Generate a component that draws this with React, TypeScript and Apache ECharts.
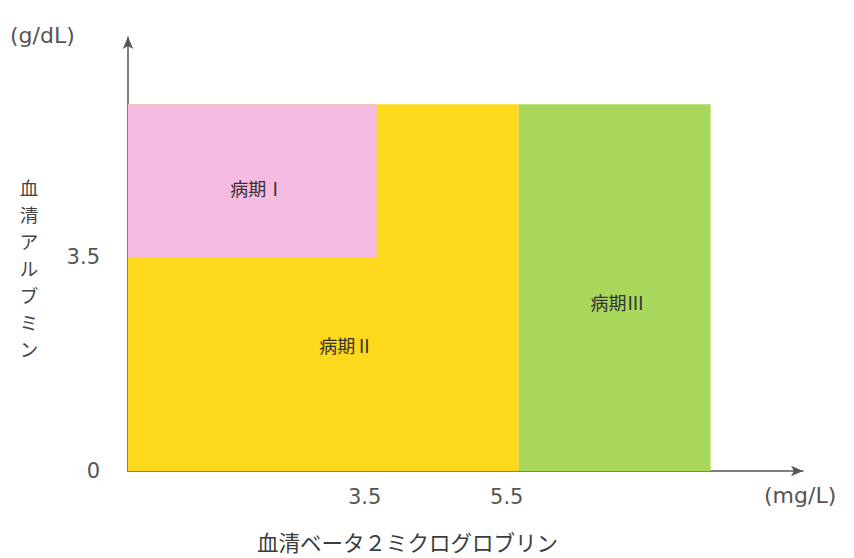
import React, { useEffect, useRef } from "react";
import * as echarts from "echarts";

// Regions (drawing order: yellow base, pink on top, green)
const regionNames = ["病期Ⅱ", "病期Ⅰ", "病期Ⅲ"];
const regionX0 = [0, 0, 5.5];
const regionX1 = [5.5, 3.5, 8.2];
const regionY0 = [0, 3.5, 0];
const regionY1 = [6, 6, 6];
const regionColors = ["#fdd81c", "#f6bbe1", "#a9d75b"];

// Stage label anchor points (data coordinates)
const labelNames = ["病期Ⅰ", "病期Ⅱ", "病期Ⅲ"];
const labelX = [1.82, 3.07, 6.89];
const labelY = [4.63, 2.06, 2.77];

// Tick labels
const xTicks = [3.5, 5.5];
const yTicks = [0, 3.5];
const xMax = 9.5;
const yMax = 7.1;

const xUnit = "(mg/L)";
const yUnit = "(g/dL)";
const xTitle = "血清ベータ２ミクログロブリン";
const yTitle = "血清アルブミン";

const JP = '"Noto Sans CJK JP", "Noto Sans", sans-serif';
const NUM = '"DejaVu Sans", "Noto Sans", sans-serif';

export default function App() {
  const ref = useRef<HTMLDivElement>(null);
  useEffect(() => {
    if (!ref.current) return;
    const chart = echarts.init(ref.current, undefined, { renderer: "svg" });
    const rectData = regionNames.map((n, i) => [regionX0[i], regionX1[i], regionY0[i], regionY1[i], i]);
    const labelData = labelNames.map((n, i) => [labelX[i], labelY[i], i]);
    const yTitleChars = yTitle.split("").map((ch, i) => ({
      type: "text",
      x: 29,
      y: 177 + i * 27,
      style: {
        text: ch,
        fill: "#444",
        font: `18.5px ${JP}`,
        lineHeight: 19,
        align: "center",
        verticalAlign: "top",
      },
    }));
    chart.setOption({
      animation: false,
      grid: { left: 128, right: 51, top: 37, bottom: 87 },
      xAxis: {
        type: "value",
        min: 0,
        max: xMax,
        splitLine: { show: false },
        axisTick: { show: false },
        axisLine: {
          show: true,
          lineStyle: { color: "#555", width: 1.5 },
          symbol: ["none", "arrow"],
          symbolSize: [8, 12],
        },
        axisLabel: {
          customValues: xTicks,
          color: "#555",
          fontSize: 21,
          fontFamily: NUM,
          margin: 15,
          padding: [0, 24, 0, 0],
          formatter: (v: number) => String(v),
        },
      },
      yAxis: {
        type: "value",
        min: 0,
        max: yMax,
        splitLine: { show: false },
        axisTick: { show: false },
        axisLine: {
          show: true,
          lineStyle: { color: "#555", width: 1.5 },
          symbol: ["none", "arrow"],
          symbolSize: [8, 12],
        },
        axisLabel: {
          customValues: yTicks,
          color: "#555",
          fontSize: 21,
          fontFamily: NUM,
          margin: 28,
          formatter: (v: number) => String(v),
        },
      },
      series: [
        {
          type: "custom",
          data: rectData,
          renderItem: (params: any, api: any) => {
            const p0 = api.coord([api.value(0), api.value(3)]);
            const p1 = api.coord([api.value(1), api.value(2)]);
            const idx = api.value(4);
            return {
              type: "rect",
              shape: { x: p0[0], y: p0[1], width: p1[0] - p0[0], height: p1[1] - p0[1] },
              style: { fill: regionColors[idx] },
            };
          },
          z: 1,
        },
        {
          type: "custom",
          data: labelData,
          renderItem: (params: any, api: any) => {
            const p = api.coord([api.value(0), api.value(1)]);
            const idx = api.value(2);
            return {
              type: "text",
              x: p[0],
              y: p[1],
              style: {
                text: labelNames[idx],
                fill: "#333",
                font: `18px ${JP}`,
                align: "center",
                verticalAlign: "middle",
              },
            };
          },
          z: 3,
        },
      ],
      graphic: [
        {
          type: "text",
          left: 10,
          top: 24,
          style: { text: yUnit, fill: "#555", font: `22px ${NUM}` },
        },
        {
          type: "text",
          left: 764,
          top: 484,
          style: { text: xUnit, fill: "#555", font: `22px ${NUM}` },
        },
        {
          type: "text",
          left: 257,
          top: 531,
          style: { text: xTitle, fill: "#3c3c3c", font: `21.5px ${JP}` },
        },
        ...yTitleChars,
      ],
    });
    return () => chart.dispose();
  }, []);
  return <div ref={ref} style={{ width: 854, height: 558, position: "absolute", left: 0, top: 0 }} />;
}
